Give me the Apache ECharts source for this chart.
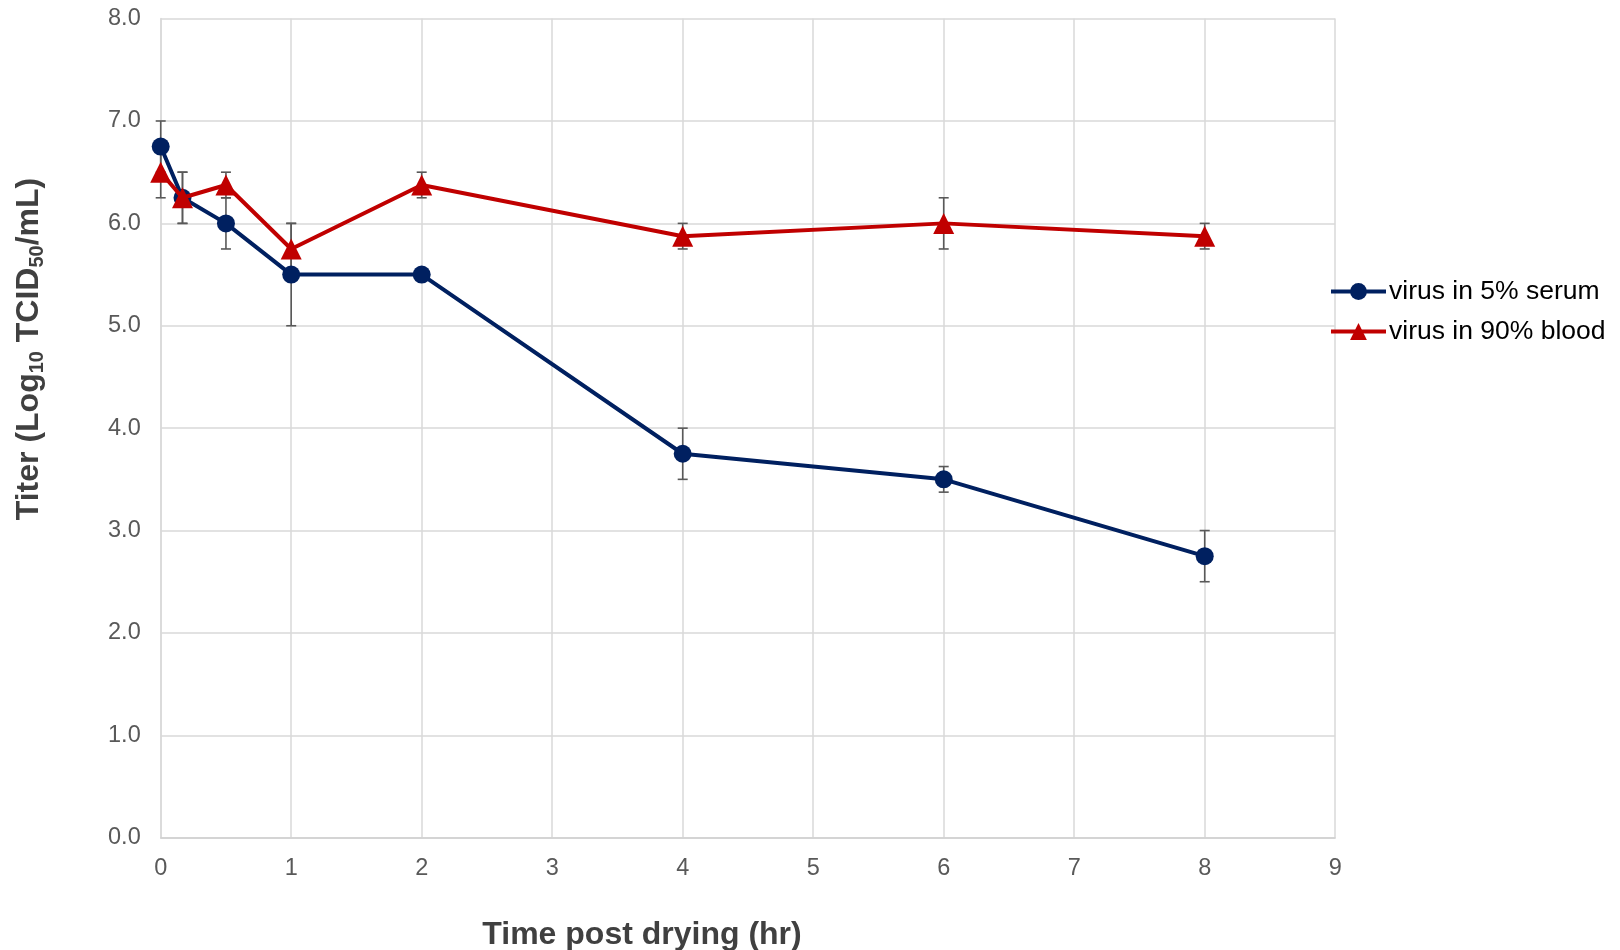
<!DOCTYPE html>
<html>
<head>
<meta charset="utf-8">
<script src="https://cdn.jsdelivr.net/npm/echarts@6/dist/echarts.min.js"></script>
<style>
html,body{margin:0;padding:0;background:#fff;}
#chart{width:1620px;height:950px;}
</style>
</head>
<body>
<div id="chart"></div>
<script>
// Data
var times = [0, 0.167, 0.5, 1, 2, 4, 6, 8];
var serum = [6.75, 6.25, 6.0, 5.5, 5.5, 3.75, 3.5, 2.75];
var serumErr = [0.25, 0.25, 0.25, 0.5, 0, 0.25, 0.125, 0.25];
var blood = [6.5, 6.25, 6.375, 5.75, 6.375, 5.875, 6.0, 5.875];
var bloodErr = [0.25, 0.25, 0.125, 0.25, 0.125, 0.125, 0.25, 0.125];
var seriesNames = ['virus in 5% serum', 'virus in 90% blood'];
var xTicks = [0, 1, 2, 3, 4, 5, 6, 7, 8, 9];
var yTicks = [0, 1, 2, 3, 4, 5, 6, 7, 8];

var FONT = 'Liberation Sans, Arial, sans-serif';

function pairs(xs, ys) { return xs.map(function (x, i) { return [x, ys[i]]; }); }
function errData(xs, ys, es) { return xs.map(function (x, i) { return [x, ys[i] - es[i], ys[i] + es[i]]; }); }

function errRender(params, api) {
  var x = api.value(0), lo = api.value(1), hi = api.value(2);
  if (hi - lo <= 0) return null;
  var pLo = api.coord([x, lo]), pHi = api.coord([x, hi]);
  var cw = 5;
  var st = { stroke: '#595959', lineWidth: 1.6, fill: null };
  return {
    type: 'group',
    children: [
      { type: 'line', shape: { x1: pHi[0], y1: pHi[1], x2: pLo[0], y2: pLo[1] }, style: st },
      { type: 'line', shape: { x1: pHi[0] - cw, y1: pHi[1], x2: pHi[0] + cw, y2: pHi[1] }, style: st },
      { type: 'line', shape: { x1: pLo[0] - cw, y1: pLo[1], x2: pLo[0] + cw, y2: pLo[1] }, style: st }
    ]
  };
}

var chart = echarts.init(document.getElementById('chart'), null, { renderer: 'canvas' });
var option = {
  animation: false,
  backgroundColor: '#ffffff',
  grid: { left: 160.7, right: 284.8, top: 18.6, bottom: 112.3, containLabel: false },
  xAxis: {
    type: 'value', min: xTicks[0], max: xTicks[xTicks.length - 1], interval: 1,
    axisLine: { show: true, lineStyle: { color: '#d0d0d0', width: 1.5 } },
    axisTick: { show: false },
    axisLabel: { color: '#595959', fontSize: 23.5, fontFamily: FONT, margin: 19 },
    splitLine: { show: true, lineStyle: { color: '#d9d9d9', width: 1.5 } }
  },
  yAxis: {
    type: 'value', min: yTicks[0], max: yTicks[yTicks.length - 1], interval: 1,
    axisLine: { show: true, lineStyle: { color: '#d9d9d9', width: 1.5 } },
    axisTick: { show: false },
    axisLabel: { color: '#595959', fontSize: 23.5, fontFamily: FONT, margin: 20,
      formatter: function (v) { return v.toFixed(1); } },
    splitLine: { show: true, lineStyle: { color: '#d9d9d9', width: 1.5 } }
  },
  legend: {
    orient: 'vertical', left: 1324, top: 271,
    itemWidth: 55, itemHeight: 21, itemGap: 9,
    data: seriesNames,
    lineStyle: { width: 4 },
    textStyle: { color: '#000', fontSize: 26.5, fontFamily: FONT, lineHeight: 31, padding: [0, 0, 0, -2] }
  },
  graphic: [
    { type: 'text', x: 642, y: 935,
      style: { text: 'Time post drying (hr)', fill: '#404040', font: 'bold 32px ' + FONT, align: 'center', verticalAlign: 'middle' } },
    { type: 'text', x: 29, y: 349, rotation: Math.PI / 2,
      style: {
        text: '{a|Titer (Log}{s|10}{a| TCID}{s|50}{a|/mL)}',
        align: 'center', verticalAlign: 'middle',
        rich: {
          a: { fill: '#404040', fontSize: 32, fontWeight: 'bold', fontFamily: FONT, lineHeight: 36, verticalAlign: 'middle' },
          s: { fill: '#404040', fontSize: 20, fontWeight: 'bold', fontFamily: FONT, lineHeight: 20, verticalAlign: 'bottom' }
        }
      } }
  ],
  series: [
    { type: 'custom', name: 'err-serum', renderItem: errRender, data: errData(times, serum, serumErr), z: 1, silent: true,
      encode: { x: 0, y: [1, 2] } },
    { type: 'custom', name: 'err-blood', renderItem: errRender, data: errData(times, blood, bloodErr), z: 1, silent: true,
      encode: { x: 0, y: [1, 2] } },
    { type: 'line', name: seriesNames[1], data: pairs(times, blood), z: 3,
      symbol: 'triangle', symbolSize: 21,
      lineStyle: { color: '#C00000', width: 4 }, itemStyle: { color: '#C00000' } },
    { type: 'line', name: seriesNames[0], data: pairs(times, serum), z: 2,
      symbol: 'circle', symbolSize: 18,
      lineStyle: { color: '#002060', width: 4 }, itemStyle: { color: '#002060' } }
  ]
};
chart.setOption(option);
</script>
</body>
</html>
